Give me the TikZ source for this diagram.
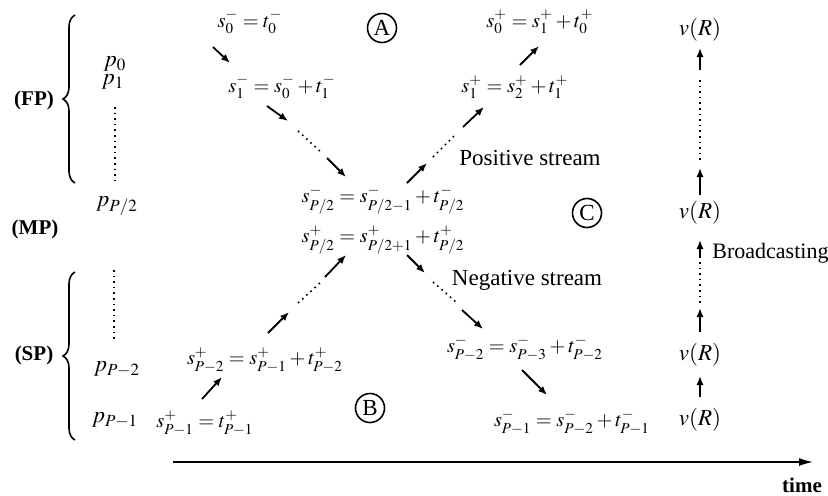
\documentclass[tikz,border=0pt]{standalone}
\usepackage{mathptmx}
\usepackage{fontspec}
\setmainfont{Liberation Serif}
\usetikzlibrary{arrows.meta,decorations.pathreplacing}

\newcommand{\picfont}{\fontsize{11.5}{13}\selectfont}
\newcommand{\eqfont}{\fontsize{10.2}{12}\selectfont}

\tikzset{
  arr/.style={-{Latex[length=4.5pt,width=3.6pt]}, line width=0.9pt},
  dots/.style={dotted, line width=0.8pt},
  lab/.style={circle, draw, line width=0.8pt, minimum size=14.5pt, inner sep=0pt},
  grp/.style={font=\fontsize{10.5}{12}\selectfont\bfseries},
  eq/.style={font=\eqfont, inner sep=1pt},
  bracegrp/.style={decorate, decoration={brace, amplitude=6pt}, line width=0.8pt},
}

\begin{document}
\begin{tikzpicture}[x=0.5pt, y=-0.5pt, font=\picfont]
        \useasboundingbox (0,0) rectangle (828,495);

        % Skupiny procesoru vlevo
        \coordinate (fpt) at (75,15);
        \coordinate (fpb) at (75,183);
        \coordinate (spt) at (75,272);
        \coordinate (spb) at (75,440);
        \draw[bracegrp] (fpb) -- (fpt);
        \draw[bracegrp] (spb) -- (spt);
        \node[grp] (fp) at (34,100) {(FP)};
        \node[grp] (mp) at (35,229) {(MP)};
        \node[grp] (sp) at (34,355) {(SP)};

        % Procesory
        \node (p0) at (115,64) {$p_0$};
        \node (p1) at (113,82) {$p_1$};
        \node (pmid) at (117,206) {$p_{P/2}$};
        \node (pp2) at (117,369) {$p_{P-2}$};
        \node (pp1) at (115,420) {$p_{P-1}$};
        \coordinate (d1a) at (115,107);
        \coordinate (d1b) at (115,180);
        \coordinate (d2a) at (114,270);
        \coordinate (d2b) at (114,340);
        \draw[dots] (d1a) -- (d1b);
        \draw[dots] (d2a) -- (d2b);

        % Zaporny proud shora
        \node[eq] (s0m) at (250,22) {$s_0^- = t_0^-$};
        \node[eq] (s1m) at (282,87) {$s_1^- = s_0^- + t_1^-$};
        \node[eq] (cm) at (383,200) {$s^-_{P/2} = s^-_{P/2-1} + t^-_{P/2}$};
        \node[eq] (cp) at (383,240) {$s^+_{P/2} = s^+_{P/2+1} + t^+_{P/2}$};
        \node[eq] (smp2) at (525,348) {$s^-_{P-2} = s^-_{P-3} + t^-_{P-2}$};
        \node[eq] (smp1) at (572,422) {$s^-_{P-1} = s^-_{P-2} + t^-_{P-1}$};

        % Kladny proud zdola
        \node[eq] (spp1) at (205,423) {$s^+_{P-1} = t^+_{P-1}$};
        \node[eq] (spp2) at (265,360) {$s^+_{P-2} = s^+_{P-1} + t^+_{P-2}$};
        \node[eq] (s1p) at (515,87) {$s_1^+ = s_2^+ + t_1^+$};
        \node[eq] (s0p) at (540,22) {$s_0^+ = s_1^+ + t_0^+$};

        % Popisky
        \node (pos) at (530,158) {Positive stream};
        \node (neg) at (527,280) {Negative stream};
        \node[anchor=west, font=\fontsize{11}{13}\selectfont, inner sep=0pt] (bc) at (712,253) {Broadcasting};
        \node[lab] (A) at (382,28) {A};
        \node[lab] (B) at (370,408) {B};
        \node[lab] (C) at (587,213) {C};

        % Vysilani v(R)
        \node (v1) at (700,30) {$v(R)$};
        \node (v2) at (700,213) {$v(R)$};
        \node (v3) at (700,355) {$v(R)$};
        \node (v4) at (700,420) {$v(R)$};

        % Body sipek
        \coordinate (a1) at (213,47);  \coordinate (a2) at (230,63);
        \coordinate (b1) at (267,106); \coordinate (b2) at (288,121);
        \coordinate (b3) at (298,131); \coordinate (b4) at (322,153);
        \coordinate (b5) at (327,158); \coordinate (b6) at (346,177);
        \coordinate (c1) at (407,183); \coordinate (c2) at (427,163);
        \coordinate (c3) at (433,157); \coordinate (c4) at (455,135);
        \coordinate (c5) at (463,127); \coordinate (c6) at (484,107);
        \coordinate (c7) at (520,65);  \coordinate (c8) at (539,46);
        \coordinate (e1) at (202,399); \coordinate (e2) at (222,377);
        \coordinate (e3) at (268,333); \coordinate (e4) at (289,312);
        \coordinate (e5) at (298,303); \coordinate (e6) at (321,282);
        \coordinate (e7) at (325,277); \coordinate (e8) at (346,255);
        \coordinate (f1) at (407,255); \coordinate (f2) at (425,273);
        \coordinate (f3) at (433,282); \coordinate (f4) at (456,302);
        \coordinate (f5) at (462,310); \coordinate (f6) at (483,329);
        \coordinate (f7) at (522,370); \coordinate (f8) at (547,395);
        \coordinate (g1) at (700,70);  \coordinate (g2) at (700,48);
        \coordinate (g3) at (700,80);  \coordinate (g4) at (700,160);
        \coordinate (g5) at (700,195); \coordinate (g6) at (700,168);
        \coordinate (g7) at (700,258); \coordinate (g8) at (700,240);
        \coordinate (g9) at (700,262); \coordinate (g10) at (700,303);
        \coordinate (g11) at (700,332); \coordinate (g12) at (700,308);
        \coordinate (g13) at (700,397); \coordinate (g14) at (700,376);

        % Sipky
        \draw[arr] (a1) -- (a2);
        \draw[arr] (b1) -- (b2);
        \draw[dots] (b3) -- (b4);
        \draw[arr] (b5) -- (b6);
        \draw[arr] (c1) -- (c2);
        \draw[dots] (c3) -- (c4);
        \draw[arr] (c5) -- (c6);
        \draw[arr] (c7) -- (c8);
        \draw[arr] (e1) -- (e2);
        \draw[arr] (e3) -- (e4);
        \draw[dots] (e5) -- (e6);
        \draw[arr] (e7) -- (e8);
        \draw[arr] (f1) -- (f2);
        \draw[dots] (f3) -- (f4);
        \draw[arr] (f5) -- (f6);
        \draw[arr] (f7) -- (f8);
        \draw[arr] (g1) -- (g2);
        \draw[dots] (g3) -- (g4);
        \draw[arr] (g5) -- (g6);
        \draw[arr] (g7) -- (g8);
        \draw[dots] (g9) -- (g10);
        \draw[arr] (g11) -- (g12);
        \draw[arr] (g13) -- (g14);

        % Casova osa
        \coordinate (t0) at (173,462);
        \coordinate (t1) at (813,462);
        \draw[-{Latex[length=7pt,width=4pt]}, line width=0.7pt] (t0) -- (t1);
        \node[grp] (time) at (802,485) {time};
\end{tikzpicture}
\end{document}
